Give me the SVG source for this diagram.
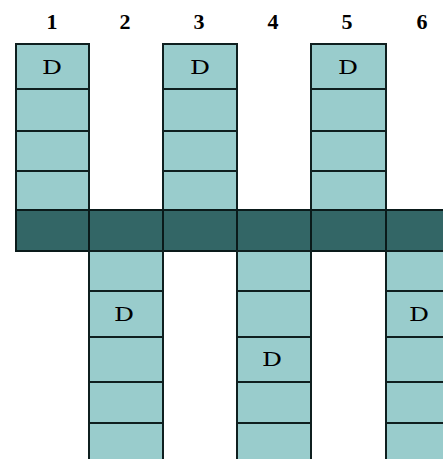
<svg xmlns="http://www.w3.org/2000/svg" width="443" height="459" viewBox="0 0 443 459">
<style>
.c{fill:#99cccc;stroke:#0f1f1f;stroke-width:2}
.b{fill:#336666;stroke:#0a1a1a;stroke-width:2}
.n{font-family:"Liberation Serif",serif;font-weight:bold;font-size:22px;text-anchor:middle;fill:#000}
.d{font-family:"DejaVu Serif",serif;font-size:19px;text-anchor:middle;fill:#000}
</style>
<rect width="443" height="459" fill="#fff"/>
<g id="labels">
<text class="n" x="52" y="29">1</text>
<text class="n" x="125" y="29">2</text>
<text class="n" x="199" y="29">3</text>
<text class="n" x="273" y="29">4</text>
<text class="n" x="347" y="29">5</text>
<text class="n" x="422" y="29">6</text>
</g>
<g id="col1">
<rect class="c" x="16" y="44" width="73" height="45"/>
<rect class="c" x="16" y="89" width="73" height="42"/>
<rect class="c" x="16" y="131" width="73" height="40"/>
<rect class="c" x="16" y="171" width="73" height="39"/>
<text class="d" x="52" y="74" textLength="20" lengthAdjust="spacingAndGlyphs">D</text>
</g>
<g id="col3">
<rect class="c" x="163" y="44" width="74" height="45"/>
<rect class="c" x="163" y="89" width="74" height="42"/>
<rect class="c" x="163" y="131" width="74" height="40"/>
<rect class="c" x="163" y="171" width="74" height="39"/>
<text class="d" x="200" y="74" textLength="20" lengthAdjust="spacingAndGlyphs">D</text>
</g>
<g id="col5">
<rect class="c" x="311" y="44" width="75" height="45"/>
<rect class="c" x="311" y="89" width="75" height="42"/>
<rect class="c" x="311" y="131" width="75" height="40"/>
<rect class="c" x="311" y="171" width="75" height="39"/>
<text class="d" x="348" y="74" textLength="20" lengthAdjust="spacingAndGlyphs">D</text>
</g>
<g id="band">
<rect class="b" x="16" y="210" width="73" height="41"/>
<rect class="b" x="89" y="210" width="74" height="41"/>
<rect class="b" x="163" y="210" width="74" height="41"/>
<rect class="b" x="237" y="210" width="74" height="41"/>
<rect class="b" x="311" y="210" width="75" height="41"/>
<rect class="b" x="386" y="210" width="60" height="41"/>
</g>
<g id="col2">
<rect class="c" x="89" y="251" width="74" height="40"/>
<rect class="c" x="89" y="291" width="74" height="46"/>
<rect class="c" x="89" y="337" width="74" height="45"/>
<rect class="c" x="89" y="382" width="74" height="41"/>
<rect class="c" x="89" y="423" width="74" height="40"/>
<text class="d" x="124" y="321" textLength="20" lengthAdjust="spacingAndGlyphs">D</text>
</g>
<g id="col4">
<rect class="c" x="237" y="251" width="74" height="40"/>
<rect class="c" x="237" y="291" width="74" height="46"/>
<rect class="c" x="237" y="337" width="74" height="45"/>
<rect class="c" x="237" y="382" width="74" height="41"/>
<rect class="c" x="237" y="423" width="74" height="40"/>
<text class="d" x="272" y="366" textLength="20" lengthAdjust="spacingAndGlyphs">D</text>
</g>
<g id="col6">
<rect class="c" x="386" y="251" width="60" height="40"/>
<rect class="c" x="386" y="291" width="60" height="46"/>
<rect class="c" x="386" y="337" width="60" height="45"/>
<rect class="c" x="386" y="382" width="60" height="41"/>
<rect class="c" x="386" y="423" width="60" height="40"/>
<text class="d" x="419" y="321" textLength="20" lengthAdjust="spacingAndGlyphs">D</text>
</g>
</svg>
